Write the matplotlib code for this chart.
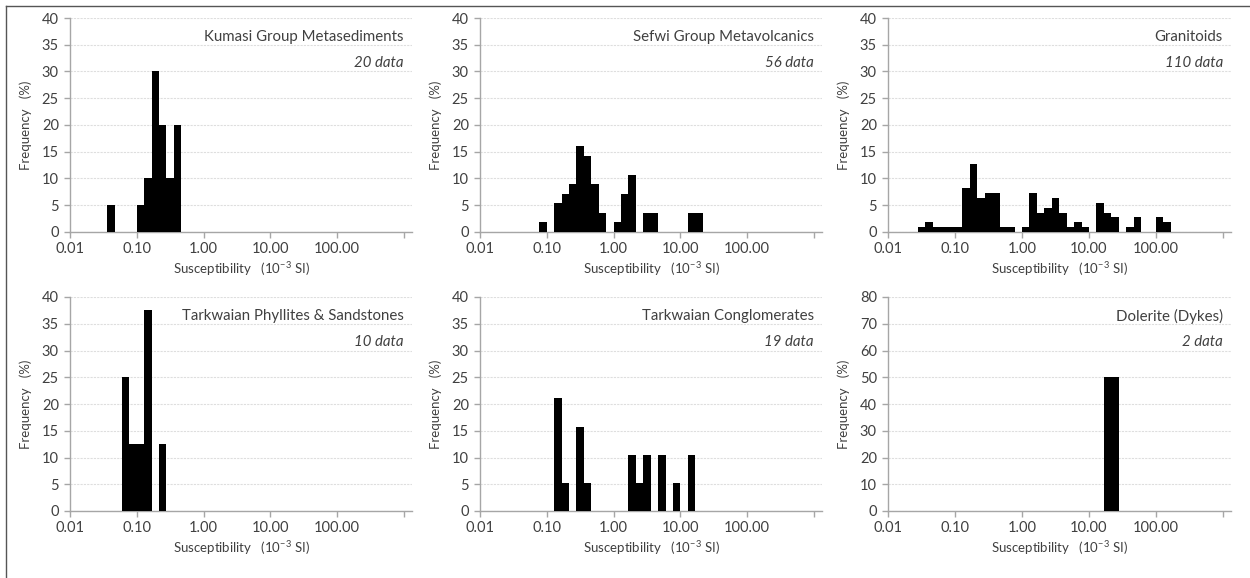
import numpy as np
import matplotlib.pyplot as plt
from matplotlib.lines import Line2D

plt.rcParams['font.family'] = ['Lato', 'DejaVu Sans']
plt.rcParams['mathtext.fontset'] = 'custom'
plt.rcParams['mathtext.rm'] = 'Lato'
plt.rcParams['mathtext.it'] = 'Lato:italic'

# log bins, 9 per decade starting at 0.01
bin_edges = 10 ** (-2 + np.arange(0, 46) / 9)

names = ["Kumasi Group Metasediments", "Sefwi Group Metavolcanics", "Granitoids",
         "Tarkwaian Phyllites & Sandstones", "Tarkwaian Conglomerates", "Dolerite (Dykes)"]
counts = ["20 data", "56 data", "110 data", "10 data", "19 data", "2 data"]

kumasi_bins = [5, 9, 10, 11, 12, 13, 14]
kumasi_freq = [5, 5, 10, 30, 20, 10, 20]

sefwi_bins = [8, 10, 11, 12, 13, 14, 15, 16, 18, 19, 20, 22, 23, 28, 29]
sefwi_freq = [1.79, 5.36, 7.14, 8.93, 16.07, 14.29, 8.93, 3.57, 1.79, 7.14, 10.71,
              3.57, 3.57, 3.57, 3.57]

granit_bins = [4, 5, 6, 7, 8, 9, 10, 11, 12, 13, 14, 15, 16, 18, 19, 20, 21, 22, 23,
               24, 25, 26, 28, 29, 30, 32, 33, 36, 37]
granit_freq = [0.91, 1.82, 0.91, 0.91, 0.91, 0.91, 8.18, 12.73, 6.36, 7.27, 7.27, 0.91,
               0.91, 0.91, 7.27, 3.64, 4.55, 6.36, 3.64, 0.91, 1.82, 0.91, 5.45, 3.64,
               2.73, 0.91, 2.73, 2.73, 1.82]

phyll_bins = [7, 8, 9, 10, 12]
phyll_freq = [25, 12.5, 12.5, 37.5, 12.5]

congl_bins = [10, 11, 13, 14, 20, 21, 22, 24, 26, 28]
congl_freq = [21.05, 5.26, 15.79, 5.26, 10.53, 5.26, 10.53, 10.53, 5.26, 10.53]

doler_bins = [29, 30]
doler_freq = [50, 50]

all_bins = [kumasi_bins, sefwi_bins, granit_bins, phyll_bins, congl_bins, doler_bins]
all_freq = [kumasi_freq, sefwi_freq, granit_freq, phyll_freq, congl_freq, doler_freq]
y_max = [40, 40, 40, 40, 40, 80]
y_step = [5, 5, 5, 5, 5, 10]

x_ticks = [0.01, 0.1, 1, 10, 100, 1000]
x_ticklabels = ["0.01", "0.10", "1.00", "10.00", "100.00", ""]

W, H = 1250, 578
fig = plt.figure(figsize=(W / 100, H / 100), dpi=100)

# axes boxes in pixels: left, right, top, bottom
lefts = [70, 480, 888]
rights = [412, 822, 1231]
tops = [18, 297]
bottoms = [232, 511]

txt = '#404040'
axc = '#a6a6a6'

for i in range(6):
    r, c = divmod(i, 3)
    l, rr = lefts[c], rights[c]
    t, b = tops[r], bottoms[r]
    ax = fig.add_axes([l / W, 1 - b / H, (rr - l) / W, (b - t) / H])

    b_idx = np.array(all_bins[i])
    left_edge = bin_edges[b_idx]
    width = bin_edges[b_idx + 1] - left_edge
    ax.bar(left_edge, all_freq[i], width=width, align='edge', color='black',
           linewidth=0, zorder=3)

    ax.set_xscale('log')
    ax.set_xlim(0.01, 10 ** 3.12)
    ax.set_ylim(0, y_max[i])
    ax.set_xticks(x_ticks)
    ax.set_xticklabels(x_ticklabels)
    ax.minorticks_off()
    ax.set_yticks(np.arange(0, y_max[i] + 1, y_step[i]))

    ax.grid(axis='y', color='#dedede', linestyle=(0, (2, 1)), linewidth=0.8, zorder=0)
    for s in ['top', 'right']:
        ax.spines[s].set_visible(False)
    for s in ['left', 'bottom']:
        ax.spines[s].set_color(axc)
        ax.spines[s].set_linewidth(1.0)
    ax.tick_params(axis='both', colors=axc, labelcolor=txt, labelsize=10.5,
                   length=4, width=1.0, direction='out')
    ax.tick_params(axis='x', pad=3)
    ax.tick_params(axis='y', pad=4)

    ax.set_xlabel(r"Susceptibility   (10$^{-3}$ SI)", fontsize=9.5, color=txt, labelpad=3)
    ax.set_ylabel("Frequency   (%)", fontsize=9.5, color=txt, labelpad=7)

    tr = ax.get_xaxis_transform()
    ax.text(1000, 0.91, names[i], transform=tr, ha='right', va='center',
            fontsize=10.8, color=txt)
    ax.text(1000, 0.79, counts[i], transform=tr, ha='right', va='center',
            fontsize=10.8, color=txt, style='italic')

# frame lines from the original figure border
fig.add_artist(Line2D([6 / W, 1], [1 - 6 / H, 1 - 6 / H], color='#555555', linewidth=1.0))
fig.add_artist(Line2D([6 / W, 6 / W], [0, 1 - 6 / H], color='#555555', linewidth=1.0))

fig.savefig("out.png", dpi=100, facecolor='white')
